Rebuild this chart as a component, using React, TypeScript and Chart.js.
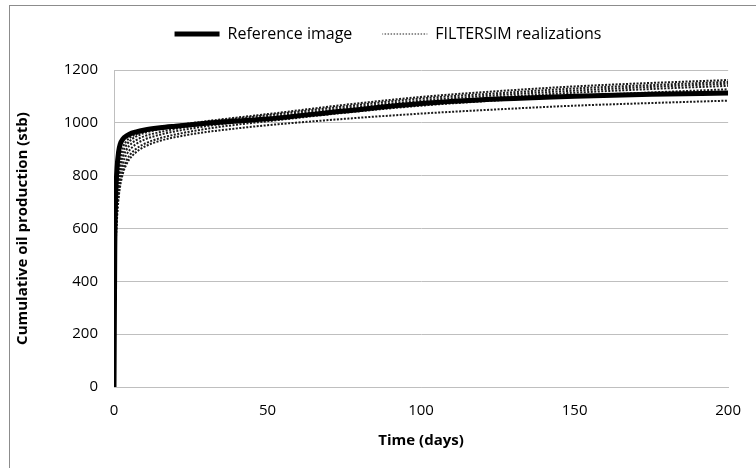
import React, { useEffect, useRef } from "react";
import { Chart, registerables } from "chart.js";

Chart.register(...registerables);

const timeDays = [0, 0.25, 0.5, 1, 1.5, 2, 3, 4, 5, 7, 10, 15, 20, 30, 40, 50, 75, 100, 125, 150, 175, 200];
const referenceImage = [0, 520, 700, 830, 890, 918, 940, 950, 957, 965, 973, 981, 987, 998, 1007, 1015, 1045, 1073, 1090, 1101, 1108, 1113];
const realization1 = [0, 420, 620, 760, 830, 870, 910, 930, 942, 956, 968, 980, 990, 1006, 1020, 1033, 1068, 1098, 1120, 1138, 1151, 1162];
const realization2 = [0, 400, 600, 735, 805, 848, 892, 915, 930, 947, 962, 976, 986, 1003, 1016, 1029, 1062, 1092, 1112, 1130, 1143, 1155];
const realization3 = [0, 370, 570, 710, 780, 825, 872, 897, 914, 933, 950, 965, 977, 995, 1009, 1022, 1055, 1084, 1105, 1122, 1136, 1148];
const realization4 = [0, 350, 545, 685, 755, 800, 850, 878, 896, 918, 937, 955, 968, 987, 1002, 1015, 1048, 1076, 1097, 1114, 1128, 1140];
const realization5 = [0, 330, 520, 660, 730, 775, 826, 856, 876, 900, 921, 942, 956, 977, 993, 1006, 1038, 1065, 1085, 1102, 1115, 1127];
const realization6 = [0, 320, 505, 640, 715, 760, 812, 842, 862, 887, 910, 932, 946, 965, 979, 991, 1015, 1035, 1051, 1065, 1075, 1084];
const realizations = [realization1, realization2, realization3, realization4, realization5, realization6];

const xTicks = [0, 50, 100, 150, 200];
const yTicks = [0, 200, 400, 600, 800, 1000, 1200];
const legendLabels = ["Reference image", "FILTERSIM realizations"];
const xTitle = "Time (days)";
const yTitle = "Cumulative oil production (stb)";

const FONT = "'Open Sans', 'Noto Sans', sans-serif";

const toPoints = (vals: number[]) => vals.map((v, i) => ({ x: timeDays[i], y: v }));

const framePlugin = {
  id: "frame",
  afterLayout(chart: any) {
    const lg = chart.legend;
    if (lg) {
      lg.left += 19;
      lg.right += 19;
      lg.top -= 18;
      lg.bottom -= 18;
    }
  },
  beforeDraw(chart: any) {
    const ctx = chart.ctx;
    ctx.save();
    ctx.fillStyle = "#ffffff";
    ctx.fillRect(0, 0, chart.width, chart.height);
    ctx.strokeStyle = "#8c8c8c";
    ctx.lineWidth = 1;
    ctx.strokeRect(9.5, 5.5, 900, 600);
    ctx.restore();
  },
};

export default function App() {
  const ref = useRef<HTMLCanvasElement | null>(null);
  useEffect(() => {
    document.body.style.margin = "0";
    if (!ref.current) return;
    const datasets: any[] = [
      {
        label: legendLabels[0],
        data: toPoints(referenceImage),
        borderColor: "#000000",
        backgroundColor: "#000000",
        borderWidth: 5,
        pointRadius: 0,
        cubicInterpolationMode: "monotone",
      },
      ...realizations.map((r, i) => ({
        label: i === 0 ? legendLabels[1] : "",
        data: toPoints(r),
        borderColor: "#1a1a1a",
        backgroundColor: "transparent",
        borderWidth: 2,
        borderDash: [2, 1.5],
        pointRadius: 0,
        cubicInterpolationMode: "monotone",
      })),
    ];
    const chart = new Chart(ref.current, {
      type: "line",
      data: { datasets },
      plugins: [framePlugin],
      options: {
        animation: false,
        responsive: false,
        maintainAspectRatio: false,
        layout: { padding: { left: 0, right: 18, top: 14, bottom: 0 } },
        plugins: {
          tooltip: { enabled: false },
          legend: {
            position: "top",
            labels: {
              color: "#000000",
              font: { family: FONT, size: 16 },
              boxWidth: 45,
              boxHeight: 0,
              padding: 30,
              generateLabels: () => [
                {
                  text: legendLabels[0],
                  fillStyle: "#000000",
                  strokeStyle: "#000000",
                  lineWidth: 5,
                  lineCap: "round",
                  lineDash: [],
                  hidden: false,
                  datasetIndex: 0,
                } as any,
                {
                  text: legendLabels[1],
                  fillStyle: "rgba(0,0,0,0)",
                  strokeStyle: "#222222",
                  lineWidth: 1.2,
                  lineDash: [1.5, 1.5],
                  lineDashOffset: 0.75,
                  hidden: false,
                  datasetIndex: 1,
                } as any,
              ],
            },
          },
        },
        scales: {
          x: {
            type: "linear",
            min: 0,
            max: 200,
            afterBuildTicks: (s: any) => {
              s.ticks = xTicks.map((v) => ({ value: v }));
            },
            afterFit: (s: any) => {
              s.height = 81;
            },
            grid: { display: false, drawTicks: false },
            border: { display: true, color: "#bfbfbf", width: 1 },
            ticks: {
              color: "#000000",
              font: { family: FONT, size: 15 },
              padding: 15,
              maxRotation: 0,
              callback: (v: any) => String(v),
            },
            title: {
              display: true,
              text: xTitle,
              color: "#000000",
              font: { family: FONT, size: 15, weight: "bold" },
              padding: { top: 4, bottom: 18 },
            },
          },
          y: {
            type: "linear",
            min: 0,
            max: 1200,
            afterBuildTicks: (s: any) => {
              s.ticks = yTicks.map((v) => ({ value: v }));
            },
            afterFit: (s: any) => {
              s.width = 114;
            },
            grid: { color: "#bfbfbf", drawTicks: false, lineWidth: 1 },
            border: { display: true, color: "#bfbfbf", width: 1 },
            ticks: {
              color: "#000000",
              font: { family: FONT, size: 15 },
              padding: 16,
              callback: (v: any) => String(v),
            },
            title: {
              display: true,
              text: yTitle,
              color: "#000000",
              font: { family: FONT, size: 15, weight: "bold" },
              padding: { top: 14, bottom: 4 },
            },
          },
        },
      },
    } as any);
    return () => chart.destroy();
  }, []);
  return (
    <div style={{ width: 756, height: 468, overflow: "hidden" }}>
      <canvas ref={ref} width={756} height={468} style={{ display: "block" }} />
    </div>
  );
}
